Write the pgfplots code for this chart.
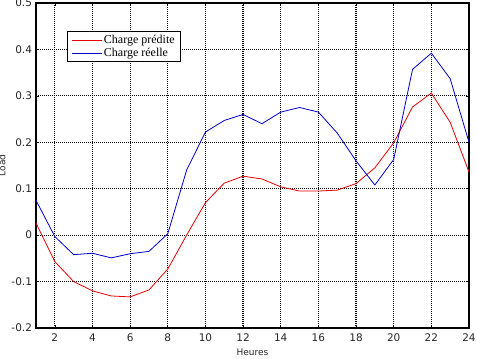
\documentclass[border=0pt]{standalone}
\usepackage{pgfplots}
\pgfplotsset{compat=1.18}
\usepackage{fontspec}
\setmainfont{DejaVu Sans}
\newfontfamily\legfont{Liberation Serif}
\pgfplotstableread{
x pred real
1 0.026 0.075
2 -0.057 -0.003
3 -0.100 -0.042
4 -0.120 -0.039
5 -0.131 -0.049
6 -0.133 -0.040
7 -0.118 -0.035
8 -0.073 0.003
9 0.000 0.140
10 0.070 0.222
11 0.112 0.247
12 0.127 0.260
13 0.121 0.240
14 0.104 0.265
15 0.095 0.275
16 0.095 0.265
17 0.097 0.220
18 0.111 0.160
19 0.145 0.108
20 0.199 0.163
21 0.276 0.357
22 0.306 0.392
23 0.243 0.337
24 0.136 0.200
}\data
\begin{document}
\begin{tikzpicture}
\begin{axis}[
  scale only axis, width=433pt, height=325pt,
  xmin=1, xmax=24, ymin=-0.2, ymax=0.5,
  xtick={2,4,...,24},
  ytick={-0.2,-0.1,0,0.1,0.2,0.3,0.4,0.5},
  yticklabels={-0.2,-0.1,0,0.1,0.2,0.3,0.4,0.5},
  xticklabels={2,4,6,8,10,12,14,16,18,20,22,24},
  tick align=inside, major tick length=3pt,
  tick style={black, line width=0.6pt},
  xtick pos=both, ytick pos=both,
  grid=major,
  grid style={black, line width=1.2pt, dash pattern=on 1pt off 1pt},
  axis line style={black, line width=1.2pt},
  tick label style={font=\fontsize{10.5}{12}\selectfont, text=black!85},
  xticklabel style={yshift=-2.5pt},
  yticklabel style={xshift=-0.5pt},
  xlabel={Heures}, ylabel={Load},
  label style={font=\fontsize{9}{10}\selectfont, text=black!85},
  xlabel style={yshift=0pt},
  ylabel style={yshift=-1pt},
  legend style={at={(axis cs:2.65,0.439)}, anchor=north west,
    draw=black, line width=0.8pt, font=\legfont\fontsize{12}{13}\selectfont,
    inner xsep=4pt, inner ysep=1.5pt, row sep=-1pt, fill=white},
  legend cell align=left,
  legend image post style={line width=0.6pt},
  legend image code/.code={\draw[#1] (0.05cm,0cm) -- (1.1cm,0cm);},
]
\addplot[red!90!black, line width=0.8pt] table[x=x, y=pred] {\data};
\addlegendentry{Charge prédite\hspace{8pt}}
\addplot[blue!80!black, line width=0.8pt] table[x=x, y=real] {\data};
\addlegendentry{Charge réelle}
\end{axis}
\pgfresetboundingbox
\path[use as bounding box] (-36pt,-31pt) rectangle (441pt,328pt);
\end{tikzpicture}
\end{document}
